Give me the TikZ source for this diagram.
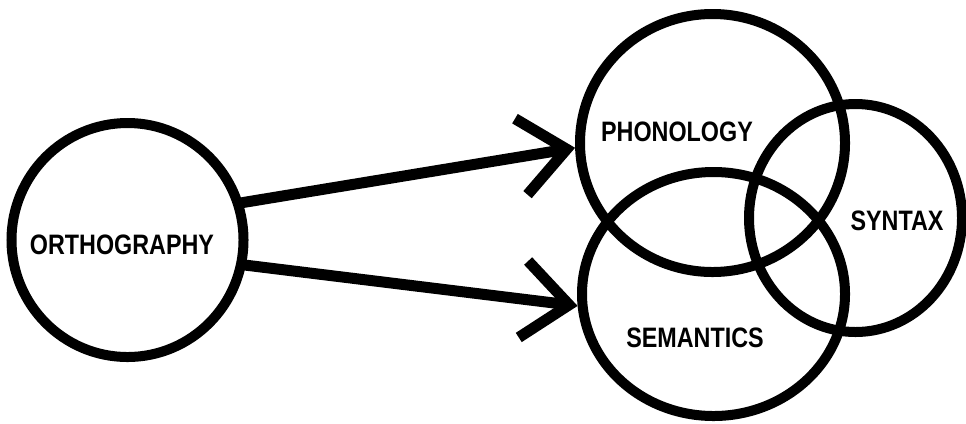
\documentclass[tikz,border=0pt]{standalone}
\usepackage{fontspec}
\newfontfamily\plotfont[FakeStretch=0.83]{Liberation Sans}
\usetikzlibrary{arrows.meta,shapes.geometric}

\begin{document}
\begin{tikzpicture}[
  x=0.2mm, y=-0.2mm,
  font={\plotfont\fontsize{16}{18}\selectfont\bfseries},
  field/.style={draw, ellipse, line width=2mm, inner sep=0pt},
  lbl/.style={inner sep=0pt},
  feed/.style={line width=2.2mm, line cap=round,
    -{Straight Barb[length=9.2mm, width=15.4mm]}}
]
\useasboundingbox (0,0) rectangle (966,423);

\node[field, minimum width=46.4mm, minimum height=46.8mm] (orth) at (127.5,240) {};
\node[field, minimum width=53mm, minimum height=51.6mm] (phon) at (712.5,143) {};
\node[field, minimum width=52.6mm, minimum height=48.8mm] (sem) at (713.5,294) {};
\node[field, minimum width=42.6mm, minimum height=45.6mm] (syn) at (855.5,218) {};

\node[lbl] (orthtxt) at (122,245) {ORTHOGRAPHY};
\node[lbl] (phontxt) at (677,132) {PHONOLOGY};
\node[lbl] (semtxt) at (695,338) {SEMANTICS};
\node[lbl] (syntxt) at (897,221) {SYNTAX};

\draw[feed] (orth.18) -- (phon.182);
\draw[feed] (orth.-12) -- (sem.185);
\end{tikzpicture}
\end{document}
